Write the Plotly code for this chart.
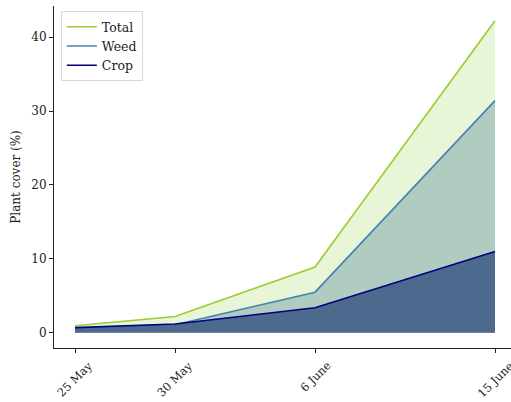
import plotly.graph_objects as go

dates = ["25 May", "30 May", "6 June", "15 June"]
days = [0, 5, 12, 21]
total = [0.95, 2.2, 8.9, 42.2]
weed = [0.3, 1.1, 5.5, 31.4]
crop = [0.7, 1.2, 3.4, 11.0]

names = ["Total", "Weed", "Crop"]
series = [total, weed, crop]
line_colors = ["#9acd32", "#4682b4", "#000080"]
fill_colors = ["#e8f5d6", "#b0cbc0", "#4d6a8e"]

font = "DejaVu Serif"
fig = go.Figure()
for n, s, lc, fc in zip(names, series, line_colors, fill_colors):
    fig.add_trace(go.Scatter(x=days, y=s, name=n, mode="lines", showlegend=False,
                             line=dict(color=lc, width=1.6),
                             fill="tozeroy", fillcolor=fc))
for n, lc in zip(names, line_colors):
    fig.add_trace(go.Scatter(x=[None], y=[None], name=n, mode="lines",
                             line=dict(color=lc, width=1.6)))

for d, t in zip(days, dates):
    fig.add_annotation(x=d, xref="x", y=0, yref="paper", yshift=-8,
                       text=t, textangle=-45, showarrow=False,
                       xanchor="center", yanchor="top",
                       font=dict(family=font, size=11.5, color="#222"))

fig.update_layout(
    width=511, height=402,
    margin=dict(l=54, r=0, t=6, b=54),
    plot_bgcolor="white", paper_bgcolor="white",
    font=dict(family=font, size=12, color="#222"),
    showlegend=True,
    legend=dict(x=0.015, y=0.985, xanchor="left", yanchor="top",
                bgcolor="white", bordercolor="#d8d8d8", borderwidth=1,
                font=dict(family=font, size=12.5), tracegroupgap=0,
                itemwidth=30),
    xaxis=dict(range=[-1.05, 21.8], tickmode="array", tickvals=days,
               showticklabels=False, showgrid=False, zeroline=False,
               showline=True, linecolor="#222", linewidth=1,
               ticks="outside", ticklen=4, tickcolor="#222", automargin=False),
    yaxis=dict(range=[-2.05, 44.2], tickvals=[0, 10, 20, 30, 40],
               showgrid=False, zeroline=False,
               showline=True, linecolor="#222", linewidth=1,
               ticks="outside", ticklen=4, tickcolor="#222", automargin=False,
               title=dict(text="Plant cover (%)", standoff=8,
                          font=dict(family=font, size=12))),
)
fig.write_html("out.html")
